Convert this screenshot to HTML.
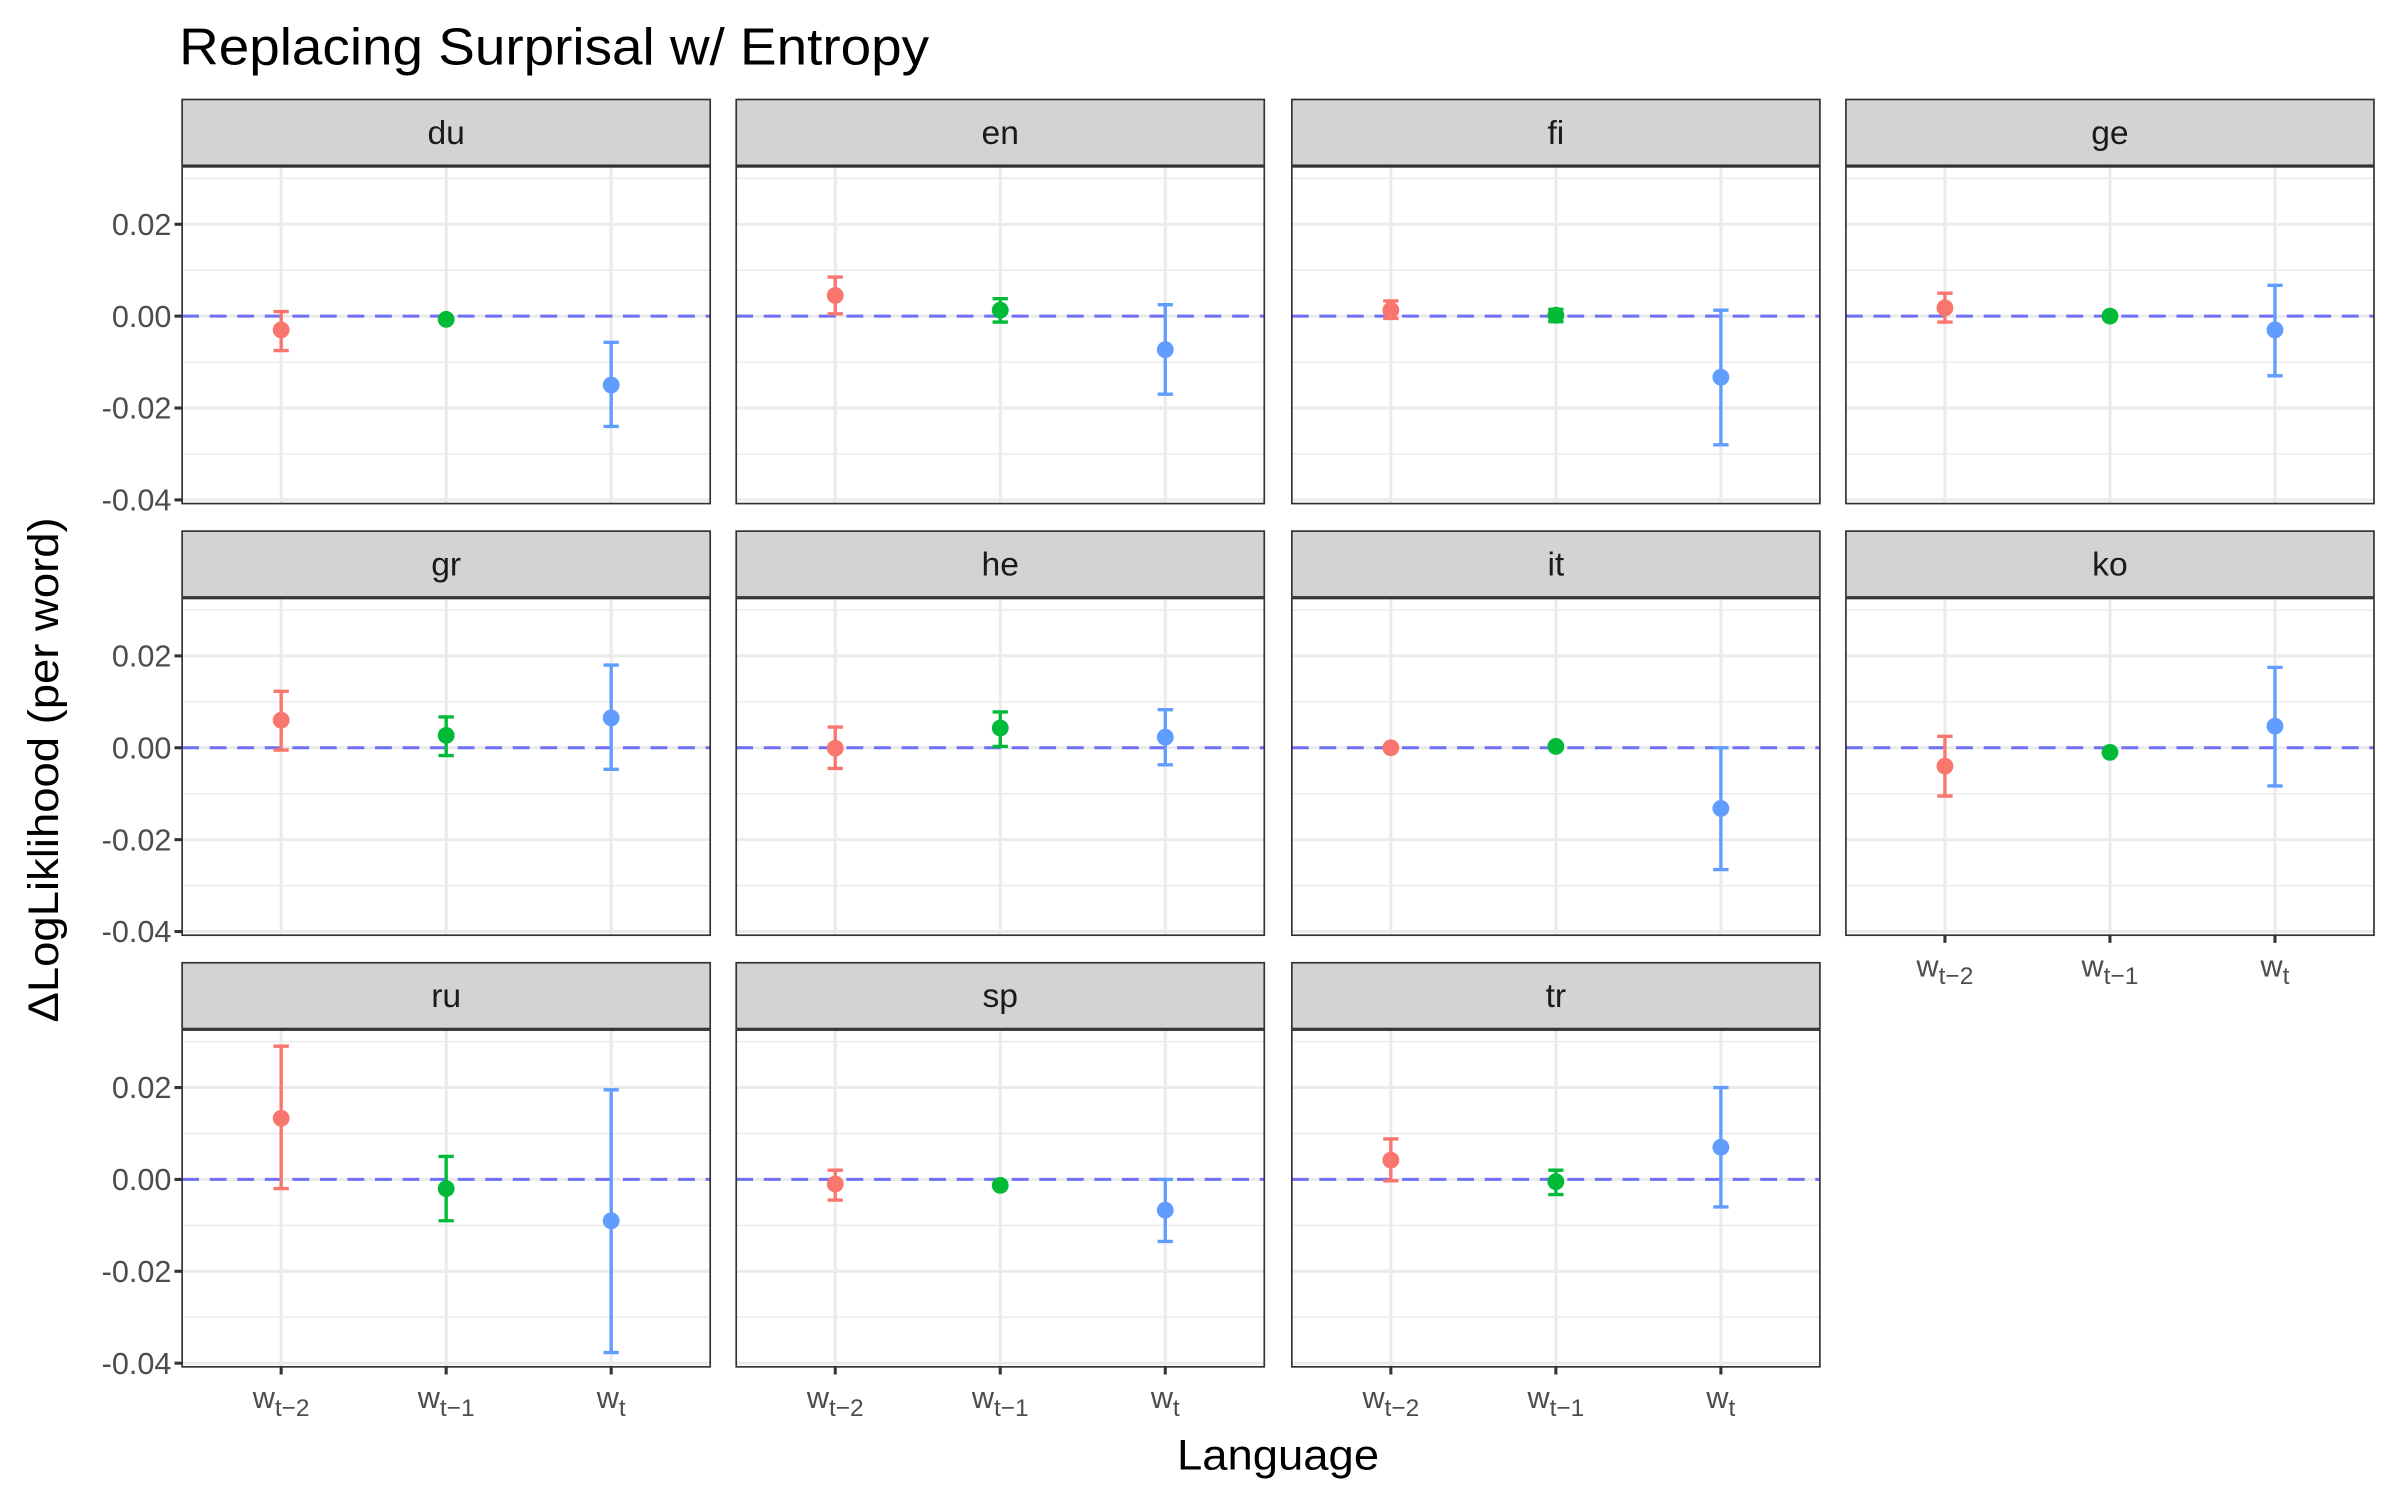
<!DOCTYPE html>
<html><head><meta charset="utf-8">
<style>
html,body{margin:0;padding:0;background:#fff;}
svg{display:block;}
text{font-family:"Liberation Sans",sans-serif;}
</style></head>
<body>
<svg id="chart" width="2400" height="1500" viewBox="0 0 1568 980" xmlns="http://www.w3.org/2000/svg">
<rect x="0" y="0" width="1568" height="980" fill="#fff"/>
<text x="117" y="42" font-size="34" fill="#000" textLength="490" lengthAdjust="spacingAndGlyphs">Replacing Surprisal w/ Entropy</text>
<text x="835" y="960" font-size="28" text-anchor="middle" fill="#000" textLength="132" lengthAdjust="spacingAndGlyphs">Language</text>
<text transform="translate(38,503) rotate(-90)" font-size="28" text-anchor="middle" fill="#000" textLength="330" lengthAdjust="spacingAndGlyphs">ΔLogLiklihood (per word)</text>
<g id="panels"></g>
</svg>
<script>
const languages = ["du","en","fi","ge","gr","he","it","ko","ru","sp","tr"];
const categories = ["t-2","t-1","t"];
const seriesColors = ["#F8766D","#00BA38","#619CFF"];
const pointValues = [
  [-0.003,-0.0007,-0.015],
  [0.0045,0.0013,-0.0073],
  [0.0013,0.0002,-0.0133],
  [0.0018,0.0,-0.003],
  [0.006,0.0027,0.0065],
  [-0.0001,0.0043,0.0023],
  [0.0,0.0003,-0.0132],
  [-0.004,-0.001,0.0047],
  [0.0133,-0.002,-0.009],
  [-0.001,-0.0013,-0.0067],
  [0.0042,-0.0005,0.007]
];
const lowerValues = [
  [-0.0075,-0.001,-0.024],
  [0.0005,-0.0013,-0.017],
  [-0.0005,-0.0012,-0.028],
  [-0.0013,-0.0003,-0.013],
  [-0.0005,-0.0017,-0.0047],
  [-0.0045,0.0003,-0.0037],
  [-0.0003,0.0,-0.0265],
  [-0.0105,-0.0013,-0.0083],
  [-0.002,-0.009,-0.0377],
  [-0.0045,-0.0016,-0.0135],
  [-0.0003,-0.0033,-0.006]
];
const upperValues = [
  [0.001,-0.0003,-0.0057],
  [0.0085,0.0038,0.0025],
  [0.0033,0.0015,0.0013],
  [0.005,0.0003,0.0067],
  [0.0123,0.0067,0.018],
  [0.0045,0.0078,0.0083],
  [0.0003,0.0006,0.0],
  [0.0025,-0.0007,0.0175],
  [0.029,0.005,0.0195],
  [0.002,-0.001,0.0],
  [0.0088,0.002,0.02]
];
const yTickValues = [0.02,0.00,-0.02,-0.04];
const yTickLabels = ["0.02","0.00","-0.02","-0.04"];
const yMinorValues = [0.03,0.01,-0.01,-0.03];

const NS="http://www.w3.org/2000/svg";
const root=document.getElementById('panels');
const colX=[119,481,844,1206], colW=345;
const rowTop=[65,347,629];
const stripH=43, panelH=220;
const yMin=-0.0408, yMax=0.0325;
function mk(tag,attrs,parent){const e=document.createElementNS(NS,tag);for(const k in attrs)e.setAttribute(k,attrs[k]);(parent||root).appendChild(e);return e;}
function xScale(i,left){return left+(i+1-0.4)/3.2*colW;}
function yScale(v,top){return top+(yMax-v)/(yMax-yMin)*panelH;}

languages.forEach((lang,li)=>{
  const r=Math.floor(li/4), c=li%4;
  const left=colX[c], stripTop=rowTop[r], top=stripTop+stripH+1;
  const g=mk('g',{});
  
  
  const strip=mk('rect',{x:left,y:stripTop,width:colW,height:stripH,fill:'#d3d3d3',stroke:'#333','stroke-width':1.1},g);
  
  
  const st=mk('text',{x:left+colW/2,y:stripTop+29,'font-size':22,'text-anchor':'middle',fill:'#1a1a1a'},g);
  st.textContent=lang;
  
  
  mk('rect',{x:left,y:top,width:colW,height:panelH,fill:'#fff'},g);
  yMinorValues.forEach(v=>{const y=yScale(v,top);mk('line',{x1:left,x2:left+colW,y1:y,y2:y,stroke:'#ebebeb','stroke-width':1},g);});
  yTickValues.forEach(v=>{const y=yScale(v,top);mk('line',{x1:left,x2:left+colW,y1:y,y2:y,stroke:'#ebebeb','stroke-width':2},g);});
  categories.forEach((cat,i)=>{const x=xScale(i,left);mk('line',{x1:x,x2:x,y1:top,y2:top+panelH,stroke:'#ebebeb','stroke-width':2},g);});
  const y0=yScale(0,top);
  const ref=mk('line',{x1:left,x2:left+colW,y1:y0,y2:y0,stroke:'#6f6ff7','stroke-width':2,'stroke-dasharray':'11,7'},g);
  
  
  categories.forEach((cat,i)=>{
    const x=xScale(i,left), col=seriesColors[i];
    const yl=yScale(lowerValues[li][i],top), yu=yScale(upperValues[li][i],top);
    const eb=mk('path',{d:`M${x-5},${yu}H${x+5}M${x},${yu}V${yl}M${x-5},${yl}H${x+5}`,stroke:col,'stroke-width':2.2,fill:'none'},g);
    
    
    const pt=mk('circle',{cx:x,cy:yScale(pointValues[li][i],top),r:5.5,fill:col},g);
    
    
  });
  mk('rect',{x:left,y:top,width:colW,height:panelH,fill:'none',stroke:'#333','stroke-width':1.1},g);
  if(c===0){
    yTickValues.forEach((v,k)=>{
      const y=yScale(v,top);
      mk('line',{x1:left-5,x2:left,y1:y,y2:y,stroke:'#333','stroke-width':2},g);
      const t=mk('text',{x:left-7,y:y+7,'font-size':20,'text-anchor':'end',fill:'#4d4d4d'},g);
      t.textContent=yTickLabels[k];
      
      
    });
  }
  const bottomPanel = (r===2) || (r===1 && c===3);
  if(bottomPanel){
    categories.forEach((cat,i)=>{
      const x=xScale(i,left), yb=top+panelH;
      mk('line',{x1:x,x2:x,y1:yb,y2:yb+5,stroke:'#333','stroke-width':2},g);
      const t=mk('text',{x:x,y:yb+27,'font-size':20,'text-anchor':'middle',fill:'#4d4d4d'},g);
      
      
      const w=document.createElementNS(NS,'tspan');w.textContent='w';t.appendChild(w);
      const s=document.createElementNS(NS,'tspan');s.setAttribute('font-size','16');s.setAttribute('dy','5');s.textContent=cat.replace('-','−');t.appendChild(s);
    });
  }
});
</script>
</body></html>
